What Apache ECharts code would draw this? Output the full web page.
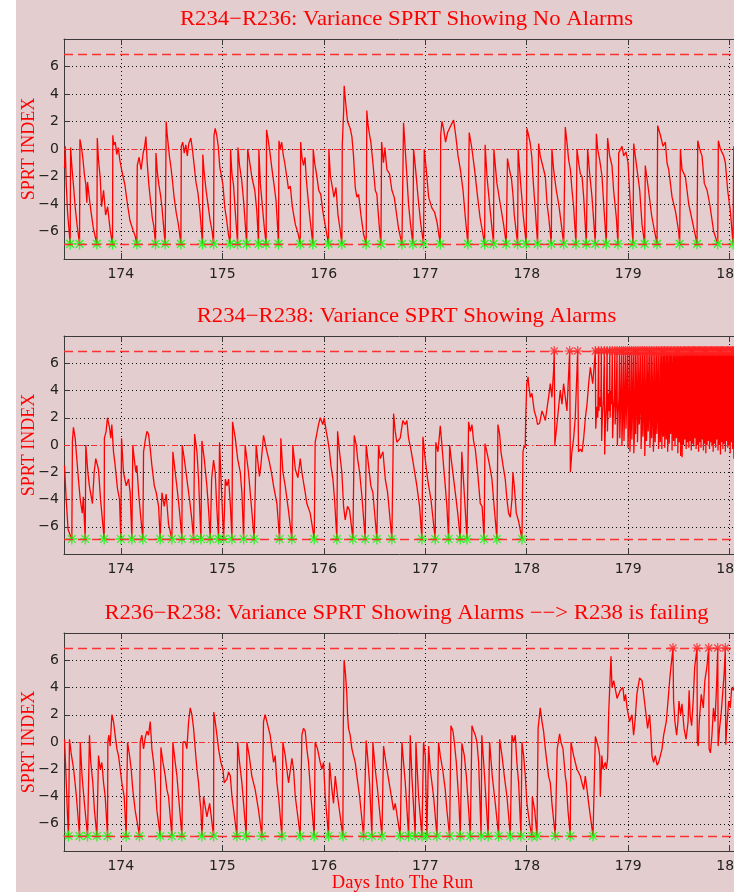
<!DOCTYPE html>
<html>
<head>
<meta charset="utf-8">
<script src="https://cdn.jsdelivr.net/npm/echarts@6.0.0/dist/echarts.min.js"></script>
<style>
  html, body { margin: 0; padding: 0; background: #e3cdce; }
  #chart { width: 734px; height: 892px; }
</style>
</head>
<body>
<div id="chart"></div>
<script>
// Axis ranges and SPRT decision thresholds
const DAY_MIN = 173.44;
const DAY_MAX = 180.2;
const LOWER = -6.9;   // accept H0 -> green star, reset
const UPPER = 6.9;    // alarm      -> red star, reset

const TITLES = [
  'R234\u2212R236: Variance SPRT Showing No Alarms',
  'R234\u2212R238: Variance SPRT Showing Alarms',
  'R236\u2212R238: Variance SPRT Showing Alarms \u2212\u2212> R238 is failing'
];
const Y_LABEL = 'SPRT INDEX';
const X_LABEL = 'Days Into The Run';

// SPRT index traces, [day, index]
const p1Trace = [
  [173.445,-1.4],[173.452,0.2],[173.462,-2.5],[173.475,-4.6],[173.501,-6.9],
  [173.505,0.1],[173.52,-1.5],[173.535,-2.8],[173.55,-4.2],[173.57,-5.6],[173.593,-6.9],
  [173.597,0.7],[173.61,0.2],[173.625,-0.6],[173.64,-1.8],[173.655,-2.6],[173.665,-3.9],[173.672,-2.4],[173.69,-3.6],[173.705,-4.5],[173.73,-5.8],[173.764,-6.9],
  [173.768,0.8],[173.78,-0.8],[173.797,-2.1],[173.81,-4.2],[173.83,-3.0],[173.85,-4.8],[173.87,-4.2],[173.895,-5.9],[173.918,-6.9],
  [173.921,1.0],[173.93,0.3],[173.945,0.5],[173.96,-0.4],[173.975,0.1],[173.99,-0.8],[174.01,-1.6],[174.04,-2.6],[174.065,-4.0],[174.09,-5.2],[174.12,-5.9],[174.14,-6.3],[174.158,-6.9],
  [174.162,-1.2],[174.18,-0.6],[174.2,-1.5],[174.22,-0.3],[174.235,0.2],[174.247,0.9],[174.26,-1.0],[174.275,-2.5],[174.29,-3.6],[174.31,-5.0],[174.325,-5.6],[174.342,-6.9],
  [174.346,-0.3],[174.36,-1.7],[174.375,-2.6],[174.39,-3.3],[174.405,-4.2],[174.42,-5.5],[174.437,-6.9],
  [174.447,2.0],[174.455,1.2],[174.47,0.1],[174.48,-0.6],[174.495,-1.4],[174.51,-2.4],[174.525,-3.5],[174.545,-4.6],[174.565,-5.4],[174.58,-6.2],[174.592,-6.9],
  [174.596,0.2],[174.61,0.5],[174.625,-0.3],[174.64,0.3],[174.655,-0.5],[174.67,0.4],[174.69,0.8],[174.705,0.0],[174.72,-1.0],[174.74,-2.4],[174.76,-3.2],[174.78,-4.6],[174.805,-6.9],
  [174.808,-0.4],[174.82,-1.6],[174.84,-3.0],[174.86,-4.1],[174.88,-5.2],[174.9,-6.0],[174.914,-6.9],
  [174.918,1.0],[174.93,1.5],[174.945,1.0],[174.96,0.2],[174.975,-1.3],[174.99,-1.9],[175.006,-2.6],[175.025,-4.3],[175.04,-5.0],[175.06,-6.2],[175.078,-6.9],
  [175.081,0.0],[175.095,-1.8],[175.11,-2.6],[175.13,-4.8],[175.151,-6.9],
  [175.154,0.1],[175.17,-1.2],[175.19,-2.2],[175.21,-3.8],[175.24,-6.9],
  [175.25,0.0],[175.275,-1.2],[175.29,-2.0],[175.32,-3.0],[175.34,-4.5],[175.357,-6.9],
  [175.36,0.0],[175.375,-2.5],[175.395,-4.2],[175.415,-5.8],[175.432,-6.9],
  [175.436,1.4],[175.45,0.8],[175.47,-0.3],[175.49,-1.5],[175.51,-2.6],[175.53,-3.8],[175.554,-6.9],
  [175.558,0.6],[175.57,0.0],[175.585,0.5],[175.6,-0.4],[175.615,-1.0],[175.635,-2.0],[175.652,-2.9],[175.67,-2.7],[175.69,-4.2],[175.72,-5.5],[175.745,-6.1],[175.768,-6.9],
  [175.772,0.5],[175.785,-0.6],[175.8,-1.2],[175.815,-0.6],[175.83,-2.4],[175.86,-4.8],[175.892,-6.9],
  [175.896,0.0],[175.91,-1.0],[175.93,-1.9],[175.95,-3.0],[175.97,-3.3],[175.99,-4.5],[176.02,-5.8],[176.047,-6.9],
  [176.05,0.0],[176.065,-2.0],[176.08,-2.6],[176.1,-3.5],[176.12,-2.8],[176.14,-4.8],[176.16,-5.8],[176.178,-6.9],
  [176.182,0.3],[176.196,2.8],[176.201,4.6],[176.215,3.4],[176.234,2.0],[176.26,1.5],[176.277,0.9],[176.293,-0.5],[176.31,-2.8],[176.326,-3.5],[176.343,-3.3],[176.366,-4.8],[176.392,-6.2],[176.418,-6.9],
  [176.424,2.8],[176.434,1.9],[176.447,1.2],[176.464,0.5],[176.484,-1.0],[176.507,-3.0],[176.523,-3.3],[176.545,-5.5],[176.563,-6.9],
  [176.57,0.5],[176.588,-1.0],[176.602,0.1],[176.622,-1.5],[176.648,-1.8],[176.671,-3.0],[176.694,-3.5],[176.737,-5.8],[176.77,-6.9],
  [176.786,1.9],[176.8,0.3],[176.819,-2.0],[176.835,-4.0],[176.855,-5.5],[176.878,-6.9],
  [176.885,0.0],[176.905,-1.5],[176.93,-3.6],[176.955,-5.4],[176.983,-6.9],
  [176.99,0.0],[177.01,-1.5],[177.033,-3.5],[177.066,-4.3],[177.092,-4.6],[177.115,-5.3],[177.148,-6.9],
  [177.152,1.0],[177.164,2.0],[177.18,1.5],[177.2,0.5],[177.22,1.2],[177.245,1.6],[177.279,2.1],[177.3,1.0],[177.323,-0.5],[177.346,-1.5],[177.372,-3.0],[177.395,-5.0],[177.42,-6.9],
  [177.433,1.2],[177.46,0.0],[177.486,-1.5],[177.516,-3.5],[177.54,-5.0],[177.585,-6.9],
  [177.59,0.3],[177.608,-2.0],[177.64,-4.5],[177.673,-6.9],
  [177.676,0.0],[177.706,-2.5],[177.739,-4.0],[177.772,-5.5],[177.798,-6.9],
  [177.81,-0.7],[177.83,-1.5],[177.85,-2.2],[177.865,-3.4],[177.877,-4.8],[177.91,-6.9],
  [177.915,0.0],[177.94,-2.5],[177.965,-4.8],[177.995,-6.9],
  [178.002,1.5],[178.018,1.0],[178.035,0.4],[178.05,-0.6],[178.065,-2.5],[178.085,-4.5],[178.107,-6.9],
  [178.117,0.4],[178.133,-0.5],[178.15,-1.0],[178.183,-2.0],[178.2,-4.0],[178.217,-5.0],[178.242,-6.9],
  [178.248,0.0],[178.265,-1.5],[178.291,-3.0],[178.315,-4.0],[178.341,-5.5],[178.364,-6.9],
  [178.38,1.6],[178.396,0.5],[178.413,-0.8],[178.43,-1.5],[178.446,-3.0],[178.462,-4.2],[178.485,-6.9],
  [178.495,0.0],[178.512,-1.0],[178.528,-1.8],[178.545,-2.0],[178.561,-3.5],[178.587,-6.9],
  [178.6,0.0],[178.62,-1.8],[178.643,-3.5],[178.676,-6.9],
  [178.686,1.1],[178.699,0.0],[178.719,-0.8],[178.742,-2.0],[178.758,-4.0],[178.784,-6.9],
  [178.797,0.8],[178.817,-0.5],[178.84,-1.2],[178.856,-3.0],[178.883,-5.0],[178.899,-6.9],
  [178.906,-0.3],[178.939,0.2],[178.955,-0.5],[178.978,-0.2],[178.998,-1.0],[179.021,-4.0],[179.047,-6.9],
  [179.054,0.4],[179.087,-1.5],[179.113,-3.0],[179.136,-5.5],[179.162,-6.9],
  [179.168,-1.2],[179.2,-3.0],[179.23,-4.8],[179.26,-6.0],[179.284,-6.9],
  [179.29,1.7],[179.317,1.0],[179.343,0.2],[179.366,0.5],[179.382,-1.0],[179.399,-1.5],[179.432,-3.5],[179.465,-4.5],[179.497,-6.0],[179.507,-6.9],
  [179.514,0.0],[179.53,-1.5],[179.563,-2.0],[179.596,-4.0],[179.639,-5.5],[179.678,-6.9],
  [179.685,0.6],[179.704,0.0],[179.727,-0.5],[179.75,-2.5],[179.777,-3.0],[179.803,-4.0],[179.842,-6.0],[179.882,-6.9],
  [179.888,0.6],[179.908,0.0],[179.941,-0.5],[179.957,-1.0],[179.98,-3.0],[180.006,-4.5],[180.033,-6.9],
  [180.04,0.2],[180.08,-2.0],[180.12,-4.0],[180.2,-6.2]
];

const p2Trace = [
  [173.445,-1.5],[173.46,-3.8],[173.48,-6.2],[173.517,-6.9],
  [173.523,0.3],[173.533,1.3],[173.55,0.5],[173.566,-1.0],[173.582,-2.5],[173.6,-4.0],[173.62,-5.0],[173.63,-3.8],[173.649,-6.9],
  [173.655,0.0],[173.675,-2.0],[173.69,-3.0],[173.72,-4.3],[173.737,-2.0],[173.753,-1.0],[173.78,-1.8],[173.8,-4.0],[173.836,-6.9],
  [173.838,0.5],[173.855,1.0],[173.868,2.0],[173.888,1.3],[173.901,0.5],[173.911,1.5],[173.928,-0.5],[173.944,-1.5],[173.967,-3.2],[173.987,-4.0],[174.0,-6.9],
  [174.007,0.5],[174.026,-2.0],[174.053,-3.0],[174.076,-2.5],[174.092,-3.5],[174.109,-6.9],
  [174.118,0.0],[174.132,-1.0],[174.148,-2.0],[174.158,-1.5],[174.175,-3.5],[174.195,-5.2],[174.217,-6.9],
  [174.224,-0.5],[174.24,0.3],[174.257,1.0],[174.273,0.8],[174.29,-0.3],[174.306,-1.5],[174.33,-3.0],[174.349,-3.5],[174.372,-4.5],[174.388,-6.9],
  [174.405,-3.5],[174.428,-4.5],[174.447,-3.6],[174.47,-5.8],[174.503,-6.9],
  [174.513,-0.5],[174.536,-2.0],[174.559,-3.5],[174.58,-5.0],[174.602,-6.9],
  [174.605,0.0],[174.625,-1.0],[174.651,-2.5],[174.677,-4.0],[174.7,-5.5],[174.717,-6.9],
  [174.727,0.8],[174.75,-0.5],[174.766,-2.5],[174.789,-6.9],
  [174.799,0.3],[174.822,-1.0],[174.848,-3.0],[174.865,-4.8],[174.881,-6.9],
  [174.895,-2.5],[174.914,-1.1],[174.93,-2.0],[174.945,-4.5],[174.963,-6.9],
  [174.973,0.2],[174.99,-3.0],[175.013,-6.9],
  [175.03,-2.5],[175.046,-3.0],[175.062,-2.5],[175.08,-4.5],[175.095,-6.9],
  [175.101,1.7],[175.128,0.5],[175.151,-1.0],[175.177,-2.0],[175.193,-3.5],[175.21,-6.9],
  [175.225,0.0],[175.258,-2.0],[175.281,-4.0],[175.314,-6.9],
  [175.334,0.0],[175.347,-1.0],[175.366,-2.3],[175.38,-1.5],[175.406,0.7],[175.44,-0.5],[175.465,-1.3],[175.488,-2.2],[175.505,-3.0],[175.538,-4.3],[175.564,-6.9],
  [175.577,0.5],[175.597,-2.0],[175.62,-3.0],[175.652,-4.8],[175.685,-6.9],
  [175.695,0.0],[175.72,-1.8],[175.745,-2.4],[175.768,-1.0],[175.784,-2.0],[175.817,-3.5],[175.833,-4.3],[175.866,-5.0],[175.906,-6.9],
  [175.915,0.2],[175.948,1.5],[175.965,2.0],[175.991,1.5],[176.004,2.0],[176.024,1.0],[176.037,0.5],[176.057,-0.5],[176.07,-1.5],[176.09,-2.5],[176.106,-4.0],[176.129,-6.9],
  [176.136,1.0],[176.155,-0.5],[176.178,-2.0],[176.195,-4.5],[176.211,-5.5],[176.234,-4.5],[176.254,-4.8],[176.287,-6.9],
  [176.3,0.7],[176.32,0.0],[176.333,-1.0],[176.353,-2.0],[176.376,-3.8],[176.408,-6.9],
  [176.418,0.0],[176.441,-1.5],[176.464,-3.0],[176.484,-3.5],[176.523,-6.9],
  [176.54,0.0],[176.556,-1.0],[176.583,-0.5],[176.606,-2.5],[176.629,-3.5],[176.671,-6.9],
  [176.688,2.3],[176.704,1.0],[176.72,0.2],[176.753,0.5],[176.779,1.8],[176.802,1.5],[176.819,1.8],[176.835,0.5],[176.858,-0.3],[176.885,-1.5],[176.917,-3.0],[176.944,-4.5],[176.967,-6.9],
  [176.977,0.6],[176.999,-1.0],[177.023,-2.5],[177.056,-4.0],[177.098,-6.9],
  [177.104,0.2],[177.125,-0.5],[177.148,1.4],[177.164,0.0],[177.18,-1.5],[177.197,-3.0],[177.213,-4.5],[177.23,-6.9],
  [177.24,0.0],[177.263,-1.5],[177.296,-3.5],[177.32,-5.0],[177.345,-6.9],
  [177.36,-0.5],[177.38,-3.0],[177.411,-6.9],
  [177.427,1.7],[177.444,1.0],[177.46,1.5],[177.476,0.3],[177.493,-0.3],[177.516,-2.0],[177.542,-4.3],[177.56,-4.5],[177.58,-6.9],
  [177.588,0.1],[177.607,-0.5],[177.634,-1.5],[177.657,-2.5],[177.673,-4.0],[177.706,-6.9],
  [177.716,1.5],[177.733,0.8],[177.746,-0.5],[177.766,-1.5],[177.788,-2.5],[177.805,-4.0],[177.821,-5.0],[177.838,-5.3],[177.854,-4.0],[177.864,-2.0],[177.877,-3.0],[177.897,-5.0],[177.92,-5.6],[177.93,-5.5],[177.953,-6.9],
  [177.963,-0.5],[177.976,0.0],[177.985,-0.2],[177.99,2.0],[178.0,4.5],[178.013,5.0],[178.018,4.5],[178.035,3.5],[178.051,3.8],[178.074,2.5],[178.094,2.0],[178.107,1.5],[178.127,1.6],[178.15,2.5],[178.166,2.2],[178.183,1.8],[178.215,3.5],[178.232,4.5],[178.248,3.5],[178.265,5.5],[178.271,6.9],
  [178.277,0.0],[178.304,2.0],[178.33,4.0],[178.347,3.0],[178.363,4.5],[178.38,3.5],[178.396,2.5],[178.423,6.9],
  [178.43,-2.0],[178.445,-0.5],[178.462,0.5],[178.478,2.0],[178.502,6.9],
  [178.51,-0.5],[178.528,-0.3],[178.545,-0.5],[178.561,0.5],[178.578,2.0],[178.594,3.0],[178.61,4.5],[178.627,5.7],[178.65,4.5],[178.676,6.9],
  [178.68,1.2],[178.69,2.8],[178.7,2.0],[178.708,6.9],
  [178.711,2.5],[178.72,3.5],[178.73,2.8],[178.735,6.9],
  [178.738,0.3],[178.745,2.0],[178.755,3.2],[178.765,6.9],
  [178.768,-0.7],[178.775,1.5],[178.785,3.0],[178.792,6.9],
  [178.795,1.0],[178.805,3.8],[178.812,2.5],[178.818,6.9],
  [178.821,2.0],[178.83,4.0],[178.836,3.0],[178.843,6.9],
  [178.846,0.5],[178.855,2.6],[178.862,3.6],[178.868,6.9],
  [178.871,1.5],[178.88,3.0],[178.89,6.9],
  [178.893,0.0],[178.9,2.2],[178.908,3.4],[178.914,6.9],
  [178.917,0.5],[178.925,2.8],[178.935,6.9],
  [178.938,0.0],[178.946,2.5],[178.955,6.9],
  [178.958,0.3],[178.966,3.0],[178.975,6.9],
  [178.978,1.2],[178.986,3.6],[178.995,6.9],
  [178.998,-0.2],[179.006,2.0],[179.014,6.9],
  [179.017,-0.5],[179.024,1.5],[179.033,6.9],
  [179.036,0.4],[179.043,2.8],[179.052,6.9],
  [179.055,-0.6],[179.062,1.0],[179.07,6.9],
  [179.073,0.8],[179.08,3.2],[179.088,6.9],
  [179.091,0.2],[179.098,2.4],[179.106,6.9],
  [179.109,1.5],[179.116,3.0],[179.124,6.9],
  [179.127,-0.3],[179.134,1.8],[179.142,6.9],
  [179.145,0.6],[179.152,2.6],[179.16,6.9],
  [179.163,-0.8],[179.17,1.2],[179.177,6.9],
  [179.18,0.3],[179.187,2.2],[179.194,6.9],
  [179.197,1.0],[179.204,3.0],[179.211,6.9],
  [179.214,-0.2],[179.221,1.5],[179.228,6.9],
  [179.231,0.5],[179.238,2.5],[179.245,6.9],
  [179.248,-0.5],[179.255,1.8],[179.262,6.9],
  [179.265,0.2],[179.272,2.2],[179.279,6.9],
  [179.282,0.8],[179.289,3.0],[179.296,6.9],
  [179.299,-0.3],[179.306,1.6],[179.313,6.9],
  [179.316,0.2],[179.328,6.9],[179.331,-0.3],[179.343,6.9],[179.346,0.6],[179.357,6.9],
  [179.36,-0.2],[179.372,6.9],[179.375,0.4],[179.386,6.9],[179.389,-0.5],[179.401,6.9],
  [179.404,0.1],[179.415,6.9],[179.418,0.8],[179.429,6.9],[179.432,-0.4],[179.444,6.9],
  [179.447,0.3],[179.458,6.9],[179.461,-0.1],[179.472,6.9],[179.475,0.5],[179.486,6.9],
  [179.489,-0.6],[179.5,6.9],[179.503,0.2],[179.514,6.9],[179.517,-0.8],[179.528,6.9],
  [179.531,-0.9],[179.542,6.9],[179.545,0.0],[179.555,6.9],[179.558,0.4],[179.568,6.9],
  [179.571,-0.3],[179.581,6.9],[179.584,0.2],[179.594,6.9],[179.597,-0.2],[179.606,6.9],
  [179.609,0.3],[179.618,6.9],[179.621,-0.4],[179.63,6.9],[179.633,0.1],[179.642,6.9],
  [179.645,-0.1],[179.654,6.9],[179.657,0.5],[179.666,6.9],[179.669,-0.3],[179.678,6.9],
  [179.681,0.0],[179.69,6.9],[179.693,-0.5],[179.702,6.9],[179.705,0.2],[179.714,6.9],
  [179.717,-0.2],[179.726,6.9],[179.729,0.4],[179.738,6.9],[179.741,-0.4],[179.75,6.9],
  [179.753,0.1],[179.762,6.9],[179.765,-0.6],[179.774,6.9],[179.777,0.0],[179.786,6.9],
  [179.789,0.3],[179.798,6.9],[179.801,-0.3],[179.81,6.9],[179.813,0.2],[179.822,6.9],
  [179.825,-0.1],[179.834,6.9],[179.837,-0.5],[179.846,6.9],[179.849,0.1],[179.858,6.9],
  [179.861,-0.2],[179.87,6.9],[179.873,0.4],[179.882,6.9],[179.885,-0.4],[179.894,6.9],
  [179.897,0.0],[179.906,6.9],[179.909,-0.7],[179.918,6.9],[179.921,0.2],[179.93,6.9],
  [179.933,-0.3],[179.942,6.9],[179.945,0.1],[179.954,6.9],[179.957,-0.5],[179.966,6.9],
  [179.969,0.3],[179.978,6.9],[179.981,-0.2],[179.99,6.9],[179.993,0.0],[180.002,6.9],
  [180.005,-0.6],[180.014,6.9],[180.017,0.2],[180.026,6.9],[180.029,-0.3],[180.038,6.9],
  [180.041,-1.0],[180.05,6.9],[180.053,0.1],[180.062,6.9]
];

const p3Trace = [
  [173.445,0.2],[173.46,-2.5],[173.475,-5.5],[173.484,-6.9],
  [173.494,0.2],[173.51,-0.8],[173.535,-2.0],[173.56,-3.8],[173.593,-6.9],
  [173.6,0.0],[173.618,-2.5],[173.641,-4.5],[173.672,-6.9],
  [173.691,0.5],[173.704,-1.5],[173.724,-3.0],[173.74,-5.0],[173.764,-6.9],
  [173.78,-1.0],[173.797,-2.0],[173.813,-1.5],[173.83,-3.0],[173.846,-4.0],[173.869,-6.9],
  [173.872,0.0],[173.882,0.5],[173.895,-0.3],[173.912,2.0],[173.928,1.5],[173.944,0.5],[173.961,-0.5],[173.977,-1.0],[173.994,-2.0],[174.01,-3.0],[174.033,-4.0],[174.053,-6.9],
  [174.066,0.0],[174.086,-1.0],[174.102,-2.0],[174.118,-3.5],[174.141,-5.0],[174.184,-6.9],
  [174.191,0.0],[174.207,0.5],[174.224,-0.5],[174.24,0.3],[174.257,0.8],[174.273,0.5],[174.29,1.5],[174.306,-0.5],[174.323,-1.5],[174.339,-3.0],[174.355,-5.0],[174.388,-6.9],
  [174.395,-0.4],[174.415,-1.5],[174.438,-2.5],[174.454,-3.5],[174.47,-4.0],[174.503,-6.9],
  [174.513,0.0],[174.536,-1.5],[174.553,-2.5],[174.569,-4.0],[174.602,-6.9],
  [174.612,0.0],[174.635,0.0],[174.651,-0.5],[174.668,1.5],[174.684,2.5],[174.7,2.0],[174.717,1.0],[174.733,-0.5],[174.75,-2.0],[174.766,-3.0],[174.776,-4.0],[174.789,-5.0],[174.799,-6.9],
  [174.815,-4.0],[174.848,-5.5],[174.875,-4.5],[174.914,-6.9],
  [174.916,2.2],[174.93,1.5],[174.947,0.5],[174.963,-0.5],[174.986,-1.5],[175.006,-2.0],[175.019,-3.0],[175.046,-2.7],[175.062,-2.2],[175.079,-2.5],[175.095,-4.0],[175.144,-6.9],
  [175.151,0.0],[175.17,-1.5],[175.193,-3.0],[175.236,-6.9],
  [175.242,0.0],[175.265,-1.0],[175.291,-2.5],[175.324,-3.5],[175.357,-5.0],[175.39,-6.9],
  [175.406,1.5],[175.422,2.0],[175.439,1.5],[175.455,1.0],[175.472,0.5],[175.488,-0.5],[175.505,-1.5],[175.521,-1.0],[175.538,-3.0],[175.554,-4.0],[175.587,-6.9],
  [175.597,0.0],[175.62,-1.0],[175.636,-2.0],[175.653,-3.0],[175.686,-1.2],[175.702,-2.0],[175.719,-4.0],[175.768,-6.9],
  [175.784,0.5],[175.8,1.0],[175.817,0.8],[175.833,-0.5],[175.85,-1.5],[175.873,-4.0],[175.906,-6.9],
  [175.915,0.0],[175.938,-0.5],[175.965,-1.5],[175.981,-2.0],[175.998,-1.5],[176.014,-4.0],[176.047,-6.9],
  [176.057,-1.5],[176.08,-3.5],[176.096,-4.5],[176.113,-2.5],[176.136,-4.0],[176.188,-6.9],
  [176.192,1.0],[176.2,6.0],[176.214,5.0],[176.227,3.5],[176.234,2.0],[176.244,1.0],[176.26,0.5],[176.277,-0.5],[176.293,-1.0],[176.31,-1.5],[176.326,-2.5],[176.353,-4.0],[176.392,-6.9],
  [176.418,0.1],[176.431,-1.0],[176.451,-3.0],[176.474,-6.9],
  [176.484,0.0],[176.507,-2.0],[176.53,-3.5],[176.573,-6.9],
  [176.589,-0.3],[176.622,-2.0],[176.655,-3.5],[176.688,-5.0],[176.704,-4.5],[176.753,-6.9],
  [176.77,0.0],[176.786,-1.5],[176.803,-3.0],[176.836,-6.9],
  [176.852,0.5],[176.868,-2.5],[176.901,-6.9],
  [176.908,0.0],[176.934,-4.0],[176.967,-6.9],
  [176.983,0.0],[177.0,-1.0],[177.016,-6.9],
  [177.033,-0.3],[177.049,-2.0],[177.082,-4.0],[177.115,-6.9],
  [177.131,0.0],[177.148,-1.0],[177.171,-2.0],[177.197,-3.5],[177.213,-5.0],[177.24,-6.9],
  [177.253,1.2],[177.273,0.8],[177.286,0.0],[177.306,-1.5],[177.319,-3.0],[177.332,-4.5],[177.345,-6.9],
  [177.361,-0.1],[177.385,-1.0],[177.405,-2.5],[177.444,-6.9],
  [177.46,1.2],[177.477,0.8],[177.493,0.5],[177.509,0.0],[177.526,-1.5],[177.55,-6.9],
  [177.557,0.5],[177.58,-2.0],[177.62,-6.9],
  [177.634,0.0],[177.66,-2.5],[177.69,-4.5],[177.723,-6.9],
  [177.733,0.2],[177.756,-1.0],[177.779,-2.5],[177.805,-4.0],[177.838,-6.9],
  [177.854,0.5],[177.871,0.0],[177.887,0.5],[177.903,-1.5],[177.92,-3.0],[177.943,-6.9],
  [177.953,0.0],[177.969,-1.0],[177.986,-2.5],[178.002,-4.5],[178.028,-6.0],[178.051,-6.9],
  [178.055,-4.0],[178.078,-5.0],[178.101,-6.9],
  [178.112,1.0],[178.133,2.5],[178.15,1.5],[178.166,0.8],[178.183,-0.5],[178.199,-1.5],[178.215,-2.5],[178.232,-3.0],[178.248,-4.5],[178.281,-6.9],
  [178.3,-0.5],[178.324,0.6],[178.337,0.0],[178.357,-0.5],[178.38,-2.5],[178.39,-3.0],[178.406,-5.0],[178.429,-6.9],
  [178.436,0.0],[178.462,-1.0],[178.495,-2.0],[178.528,-2.5],[178.544,-3.0],[178.561,-3.5],[178.577,-2.5],[178.594,-3.5],[178.61,-4.5],[178.653,-6.9],
  [178.676,0.4],[178.692,0.0],[178.709,-0.5],[178.719,-1.0],[178.725,-4.0],[178.74,-1.0],[178.751,-2.0],[178.774,-1.5],[178.784,-2.0],[178.797,-1.2],[178.807,2.0],[178.83,6.3],
  [178.84,4.0],[178.857,4.5],[178.89,3.2],[178.922,3.8],[178.948,4.0],[178.961,3.0],[178.974,3.5],[178.988,2.5],[179.014,1.5],[179.037,2.0],[179.053,0.5],[179.06,1.0],[179.07,1.8],
  [179.085,3.5],[179.112,4.7],[179.136,4.5],[179.152,3.5],[179.168,2.5],[179.191,1.0],[179.211,2.0],[179.224,0.5],[179.234,-1.0],[179.25,-1.5],[179.267,-1.0],[179.284,-1.7],
  [179.3,-1.5],[179.316,-1.5],[179.333,-0.5],[179.349,0.5],[179.375,1.5],[179.392,3.0],[179.408,4.5],[179.421,5.5],[179.441,6.9],
  [179.447,3.0],[179.46,1.5],[179.477,0.5],[179.49,1.5],[179.5,3.0],[179.517,2.0],[179.53,2.8],[179.55,1.0],[179.57,0.2],[179.59,1.5],[179.6,3.8],[179.61,2.0],[179.625,1.2],[179.64,3.0],[179.655,5.5],[179.678,6.9],
  [179.681,0.0],[179.69,-0.3],[179.7,1.5],[179.72,3.5],[179.74,2.5],[179.755,4.5],[179.775,5.5],[179.793,6.9],
  [179.797,-0.5],[179.81,-0.8],[179.825,0.5],[179.84,2.5],[179.855,1.5],[179.87,4.0],[179.882,6.9],
  [179.886,-0.3],[179.9,1.0],[179.915,2.0],[179.93,3.5],[179.945,5.0],[179.957,6.9],
  [179.961,-0.2],[179.975,1.5],[179.99,3.0],[180.005,2.5],[180.02,4.0],[180.035,3.8],[180.05,4.2],[180.08,3.5]
];

const TRACES = [p1Trace, p2Trace, p3Trace];

// ---- layout / styling -------------------------------------------------
const BG = '#e3cdce';
const RED = '#ff0000';
const AXIS_COLOR = '#3a3a3a';
const LABEL_COLOR = '#222222';
const PLOT_LEFT = 64;
const PLOT_WIDTH = 686;              // right edge runs past the page edge
const PANELS = [
  { top: 39,  height: 220, titleY: 19.5 },
  { top: 336, height: 218, titleY: 316 },
  { top: 633, height: 218, titleY: 613.5 }
];
const TITLE_CX = 406.5;

// MATLAB-style asterisk marker
const STAR = 'path://M5 0L5 10M0 5L10 5M1.5 1.5L8.5 8.5M1.5 8.5L8.5 1.5';

const minusSign = s => String(s).replace('-', '\u2212');

const option = {
  backgroundColor: BG,
  animation: false,
  grid: [],
  xAxis: [],
  yAxis: [],
  series: [],
  graphic: []
};

PANELS.forEach((p, i) => {
  const trace = TRACES[i];
  option.grid.push({
    left: PLOT_LEFT, top: p.top, width: PLOT_WIDTH, height: p.height,
    containLabel: false, outerBoundsMode: 'none'
  });

  const tickStyle = { show: true, inside: true, length: 6, lineStyle: { color: AXIS_COLOR, width: 1 } };
  const lineStyle = { show: true, onZero: false, lineStyle: { color: AXIS_COLOR, width: 1 } };
  const gridDots = { color: '#111', width: 1, type: [1, 3] };

  // bottom day axis
  option.xAxis.push({
    gridIndex: i, type: 'value', position: 'bottom',
    min: DAY_MIN, max: DAY_MAX, splitNumber: 6,
    axisLine: lineStyle, axisTick: tickStyle,
    axisLabel: {
      color: LABEL_COLOR, fontSize: 14, fontFamily: 'DejaVu Sans', margin: 8,
      formatter: v => (Math.abs(v - Math.round(v)) < 1e-6 ? String(Math.round(v)) : '')
    },
    splitLine: { show: true, showMinLine: false, showMaxLine: false, lineStyle: gridDots }
  });
  // top frame with inward ticks
  option.xAxis.push({
    gridIndex: i, type: 'value', position: 'top',
    min: DAY_MIN, max: DAY_MAX, splitNumber: 6,
    axisLine: lineStyle, axisTick: tickStyle,
    axisLabel: { show: false }, splitLine: { show: false }
  });
  option.yAxis.push({
    gridIndex: i, type: 'value', min: -8, max: 8, interval: 2,
    axisLine: lineStyle, axisTick: tickStyle,
    axisLabel: {
      color: LABEL_COLOR, fontSize: 14, fontFamily: 'DejaVu Sans', margin: 5,
      showMinLabel: false, showMaxLabel: false, formatter: minusSign
    },
    splitLine: { show: true, showMinLine: false, showMaxLine: false, lineStyle: gridDots }
  });

  option.series.push({
    type: 'line', xAxisIndex: 2 * i, yAxisIndex: i,
    data: trace, symbol: 'none', showSymbol: false, silent: true, z: 3,
    lineStyle: { color: RED, width: 1.3 },
    markLine: {
      silent: true, symbol: ['none', 'none'], label: { show: false }, animation: false,
      data: [
        { yAxis: UPPER, lineStyle: { color: '#ff3030', width: 1.3, type: [9, 5] } },
        { yAxis: LOWER, lineStyle: { color: '#ff3030', width: 1.3, type: [9, 5] } },
        { yAxis: 0, lineStyle: { color: '#ff2a2a', width: 1, type: [6, 3, 1.5, 3] } }
      ]
    }
  });
  // accept decisions at the lower threshold
  option.series.push({
    type: 'scatter', xAxisIndex: 2 * i, yAxisIndex: i, silent: true, z: 4,
    data: trace.filter(d => d[1] <= LOWER),
    symbol: STAR, symbolSize: 11,
    itemStyle: { color: 'rgba(0,0,0,0)', borderColor: '#00ff00', borderWidth: 1.3 }
  });
  // alarms at the upper threshold
  option.series.push({
    type: 'scatter', xAxisIndex: 2 * i, yAxisIndex: i, silent: true, z: 4,
    data: trace.filter(d => d[1] >= UPPER),
    symbol: STAR, symbolSize: 10,
    itemStyle: { color: 'rgba(0,0,0,0)', borderColor: '#ff2020', borderWidth: 1.2 }
  });

  option.graphic.push({
    type: 'text', x: TITLE_CX, y: p.titleY, scaleX: 1.08, z: 10,
    style: {
      text: TITLES[i], font: '21px "Liberation Serif"', fill: RED,
      align: 'center', verticalAlign: 'middle', textAlign: 'center', textVerticalAlign: 'middle'
    }
  });
  option.graphic.push({
    type: 'text', x: 29.5, y: p.top + p.height / 2, rotation: Math.PI / 2, z: 10,
    style: {
      text: Y_LABEL, font: '18px "Liberation Serif"', fill: RED,
      align: 'center', verticalAlign: 'middle', textAlign: 'center', textVerticalAlign: 'middle'
    }
  });
});

option.graphic.push({
  type: 'text', x: 402.5, y: 883.5, z: 10,
  style: {
    text: X_LABEL, font: '18.5px "Liberation Serif"', fill: RED,
    align: 'center', verticalAlign: 'middle', textAlign: 'center', textVerticalAlign: 'middle'
  }
});
// white margin strip on the left edge
option.graphic.push({
  type: 'rect', z: 0, shape: { x: 0, y: 0, width: 16, height: 892 }, style: { fill: '#ffffff' }
});

const chart = echarts.init(document.getElementById('chart'), null, { renderer: 'canvas' });
chart.setOption(option);
</script>
</body>
</html>
